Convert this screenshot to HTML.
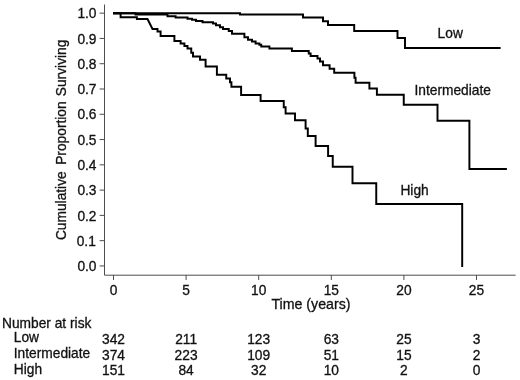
<!DOCTYPE html>
<html>
<head>
<meta charset="utf-8">
<style>
html,body{margin:0;padding:0;background:#fff;}
body{width:520px;height:380px;overflow:hidden;}
svg{display:block;filter:grayscale(1);}
text{font-family:"Liberation Sans",sans-serif;font-size:13.75px;fill:#111;stroke:#111;stroke-width:0.3px;}
</style>
</head>
<body>
<svg width="520" height="380" viewBox="0 0 520 380">
<rect x="0" y="0" width="520" height="380" fill="#fff"/>
<!-- axes -->
<g stroke="#3a3a3a" stroke-width="0.9" fill="none">
<path d="M104.5,4.5 V275.2 H515.6"/>
<path d="M99.6,13.15 H104.5 M99.6,38.43 H104.5 M99.6,63.71 H104.5 M99.6,88.99 H104.5 M99.6,114.27 H104.5 M99.6,139.55 H104.5 M99.6,164.83 H104.5 M99.6,190.11 H104.5 M99.6,215.39 H104.5 M99.6,240.67 H104.5 M99.6,265.95 H104.5"/>
<path d="M113.5,275.2 V280 M186.1,275.2 V280 M258.7,275.2 V280 M331.3,275.2 V280 M403.9,275.2 V280 M476.5,275.2 V280"/>
</g>
<!-- curves -->
<g stroke="#000" stroke-width="1.95" fill="none" stroke-linejoin="miter">
<path id="low" d="M113,13.3 H240 V14.4 H303 V17.55 H323 V21.3 H328 V25.05 H354.2 V30.9 H397.5 V38.05 H405 V47.9 H500.6"/>
<path id="int" d="M113,13.3 H135.5 V14.4 H167.5 V16.3 H175.6 V17.55 H187.5 V18.8 H192 V19.7 H196 V20.9 H202.5 V22.2 H213 V23.4 H216 V25.3 H220 V27.2 H223 V29.05 H228.75 V30.9 H232 V33.8 H244.4 V37.2 H248 V39.7 H252 V41.55 H255.6 V43.4 H259.4 V44.7 H261.25 V46.55 H269.4 V48.4 H291.9 V50.9 H308.75 V53.4 H310.6 V55.9 H317.5 V58.4 H320 V61.55 H323 V65.3 H329.6 V68.8 H334.2 V72.8 H354.4 V77.8 H355.6 V82.8 H369.4 V88.4 H376.9 V94.7 H403.75 V104.7 H437.5 V120.8 H469.4 V169 H506.9"/>
<path id="high" d="M113,13.3 H120.6 V17.2 H136.9 V19.05 H147.5 L152.5,29.05 H157.5 V31.55 H160.6 V35.9 H174.4 V40.9 H180.6 V43.4 H184.4 V45.9 H187.5 V48.4 H191.25 V52.8 H193 V56.55 H200 V59.7 H205.6 V66.55 H216.9 V74.7 H226.25 V78.4 H230 V82.2 H231.4 V86.7 H241.1 V94.9 H260.6 V100.9 H283.75 V107.2 H285.6 V113.4 H295 V120.3 H305.6 V128.4 H307.8 V135.9 H315.6 V145.9 H328.1 V155.9 H332.75 V166.7 H352.5 V183.3 H376.25 V204.05 H462.2 V266.9"/>
</g>
<!-- y tick labels -->
<g text-anchor="end" style="font-size:14.3px">
<text x="96.5" y="18.35">1.0</text>
<text x="96.5" y="43.63">0.9</text>
<text x="96.5" y="68.91">0.8</text>
<text x="96.5" y="94.19">0.7</text>
<text x="96.5" y="119.47">0.6</text>
<text x="96.5" y="144.75">0.5</text>
<text x="96.5" y="170.03">0.4</text>
<text x="96.5" y="195.31">0.3</text>
<text x="96.5" y="220.59">0.2</text>
<text x="95.8" y="245.87">0.1</text>
<text x="96.5" y="271.15">0.0</text>
</g>
<!-- x tick labels -->
<g text-anchor="middle">
<text x="113.5" y="295.3">0</text>
<text x="186.1" y="295.3">5</text>
<text x="258.7" y="295.3">10</text>
<text x="331.3" y="295.3">15</text>
<text x="403.9" y="295.3">20</text>
<text x="476.5" y="295.3">25</text>
</g>
<text x="271.4" y="308.6" style="font-size:14.2px">Time (years)</text>
<text transform="translate(66,240.1) rotate(-90)">Cumulative</text>
<text transform="translate(66,164.8) rotate(-90)">Proportion</text>
<text transform="translate(66,96.2) rotate(-90)">Surviving</text>
<!-- curve labels -->
<text x="437.6" y="38">Low</text>
<text x="414.5" y="95">Intermediate</text>
<text x="400.4" y="194.6">High</text>
<!-- risk table -->
<text x="2" y="327.6">Number at risk</text>
<text x="13.8" y="342.4">Low</text>
<text x="13.8" y="357.6">Intermediate</text>
<text x="13.8" y="373.6">High</text>
<g text-anchor="middle">
<text x="113.5" y="343.75">342</text><text x="186.1" y="343.75">211</text><text x="258.7" y="343.75">123</text><text x="331.3" y="343.75">63</text><text x="403.9" y="343.75">25</text><text x="476.5" y="343.75">3</text>
<text x="113.5" y="359.5">374</text><text x="186.1" y="359.5">223</text><text x="258.7" y="359.5">109</text><text x="331.3" y="359.5">51</text><text x="403.9" y="359.5">15</text><text x="476.5" y="359.5">2</text>
<text x="113.5" y="375.4">151</text><text x="186.1" y="375.4">84</text><text x="258.7" y="375.4">32</text><text x="331.3" y="375.4">10</text><text x="403.9" y="375.4">2</text><text x="476.5" y="375.4">0</text>
</g>
</svg>
</body>
</html>
